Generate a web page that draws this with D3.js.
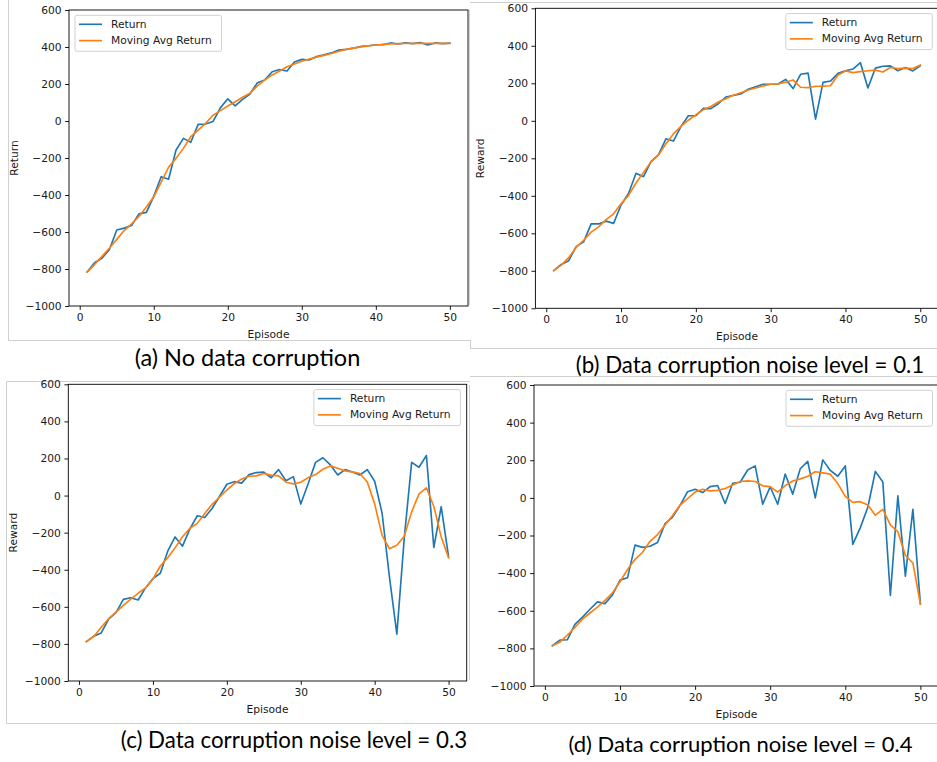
<!DOCTYPE html>
<html>
<head>
<meta charset="utf-8">
<script src="https://cdn.jsdelivr.net/npm/d3@7/dist/d3.min.js"></script>
<style>
  html, body { margin: 0; padding: 0; background: #ffffff; }
  svg { display: block; }
</style>
</head>
<body>
<svg id="fig" width="937" height="762"></svg>
<script>
// Episode index shared by all four training runs
const episodes = [1,2,3,4,5,6,7,8,9,10,11,12,13,14,15,16,17,18,19,20,
  21,22,23,24,25,26,27,28,29,30,31,32,33,34,35,36,37,38,39,40,
  41,42,43,44,45,46,47,48,49,50];

const xTickValues = [0, 10, 20, 30, 40, 50];
const yTickValues = [-1000, -800, -600, -400, -200, 0, 200, 400, 600];
const seriesNames = ["Return", "Moving Avg Return"];

// (a) no data corruption
const returnA = [-816,-766,-742,-696,-589,-579,-565,-502,-494,-407,-301,-315,-158,-94,-115,-18,-16,-3,71,120,
  82,117,146,207,222,266,278,270,319,333,330,348,358,368,383,387,394,403,407,412,
  413,422,416,422,418,424,411,422,418,421];
const avgA = [-816,-776,-732,-688,-640,-592,-556,-516,-465,-410,-330,-250,-202,-148,-85,-49,-13,31,56,81,
  104,128,150,190,222,249,270,293,308,323,335,345,355,365,377,387,394,401,406,411,
  414,417,418,419,420,420,420,420,420,420];

// (b) noise level 0.1
const returnB = [-799,-766,-746,-671,-646,-550,-550,-535,-547,-449,-388,-280,-298,-218,-182,-96,-108,-31,27,27,
  66,65,91,127,135,143,168,182,195,195,196,221,172,248,254,9,205,212,253,267,
  276,310,175,281,291,293,267,284,266,294];
const avgB = [-799,-770,-730,-675,-637,-594,-566,-527,-496,-443,-398,-332,-275,-219,-183,-122,-70,-30,3,32,
  59,76,100,118,136,150,164,175,186,195,196,206,218,179,177,184,185,187,244,266,
  257,262,267,270,260,284,279,281,279,297];

// (c) noise level 0.3
const returnC = [-788,-758,-741,-667,-631,-560,-551,-563,-498,-448,-419,-300,-223,-273,-180,-109,-118,-70,-5,61,
  75,67,113,124,126,96,140,80,102,-46,64,179,204,166,111,140,127,111,140,77,
  -94,-440,-747,-230,179,153,216,-280,-60,-330];
const avgC = [-788,-760,-710,-664,-628,-592,-558,-527,-498,-450,-380,-335,-282,-222,-176,-150,-97,-48,-9,30,
  64,89,104,106,119,110,106,72,63,72,97,113,142,160,147,133,128,119,73,-45,
  -215,-287,-268,-219,-88,9,42,-58,-223,-335];

// (d) noise level 0.4
const returnD = [-786,-756,-754,-672,-634,-592,-553,-562,-516,-437,-425,-251,-263,-257,-237,-137,-102,-40,33,46,
  28,60,66,-30,78,83,148,170,-33,59,-34,127,20,155,194,0,202,146,115,170,
  -247,-158,-50,141,84,-519,11,-416,-61,-564];
const avgD = [-786,-767,-729,-689,-645,-612,-581,-545,-505,-446,-381,-328,-289,-231,-195,-144,-94,-38,-4,31,
  46,37,40,50,68,87,90,87,64,60,31,65,90,101,115,139,133,126,76,8,
  -24,-20,-38,-92,-61,-143,-180,-305,-346,-564];

const colors = ["#1f77b4", "#ff7f0e"];

const panels = [
  { ret: returnA, avg: avgA, box: [69, 10, 468, 306], ylabel: "Return", legend: "left",
    caption: "(a) No data corruption", cap: [247.5, 366], capSize: 23.5 },
  { ret: returnB, avg: avgB, box: [535.4, 8.3, 938.6, 308.3], ylabel: "Reward", legend: "right",
    caption: "(b) Data corruption noise level = 0.1", cap: [750, 373], capSize: 22.3 },
  { ret: returnC, avg: avgC, box: [68.3, 384.3, 466.7, 681], ylabel: "Reward", legend: "right",
    caption: "(c) Data corruption noise level = 0.3", cap: [294, 748], capSize: 22.3 },
  { ret: returnD, avg: avgD, box: [534, 385, 938.8, 686], ylabel: null, legend: "right",
    caption: "(d) Data corruption noise level = 0.4", cap: [740.5, 752], capSize: 22 }
];

const svg = d3.select("#fig");
const tickFont = "DejaVu Sans, sans-serif";
const tickSize = 10.7;

// light frames around each sub-figure
const frameLines = [
  [8.5, 0, 8.5, 340.5], [8.5, 340.5, 470, 340.5],
  [469.5, 10, 469.5, 305], [470, 2.5, 937, 2.5], [470.5, 340, 470.5, 348.5], [470, 348.5, 937, 348.5],
  [6.5, 381.5, 470, 381.5], [6.5, 381.5, 6.5, 723.5], [6.5, 723.5, 470, 723.5],
  [469.5, 385, 469.5, 680], [469, 723.5, 937, 723.5], [470, 376.5, 937, 376.5]
];
svg.append("g").selectAll("line").data(frameLines).join("line")
  .attr("x1", d => d[0]).attr("y1", d => d[1]).attr("x2", d => d[2]).attr("y2", d => d[3])
  .attr("stroke", "#d0d0d0").attr("stroke-width", 1);

const fmt = d => (d < 0 ? "\u2212" + Math.abs(d) : String(d));

panels.forEach(p => {
  const [l, t, r, b] = p.box;
  const g = svg.append("g");
  const x = d3.scaleLinear().domain([-1.45, 52.45]).range([l, r]);
  const y = d3.scaleLinear().domain([-1000, 600]).range([b, t]);

  const clipId = "clip" + Math.round(l) + "_" + Math.round(t);
  svg.append("clipPath").attr("id", clipId)
    .append("rect").attr("x", l).attr("y", t).attr("width", r - l).attr("height", b - t);

  // axes
  const xAxis = g.append("g").attr("transform", `translate(0,${b})`)
    .call(d3.axisBottom(x).tickValues(xTickValues).tickSize(3.9).tickPadding(3.5).tickFormat(fmt));
  const yAxis = g.append("g").attr("transform", `translate(${l},0)`)
    .call(d3.axisLeft(y).tickValues(yTickValues).tickSize(3.9).tickPadding(3.5).tickFormat(fmt));
  [xAxis, yAxis].forEach(a => {
    a.select(".domain").remove();
    a.selectAll("line").attr("stroke", "#000").attr("stroke-width", 0.9);
    a.selectAll("text").attr("font-family", tickFont).attr("font-size", tickSize).attr("fill", "#1a1a1a");
  });

  // lines
  const lineGen = vals => d3.line().x((d, i) => x(episodes[i])).y(d => y(d))(vals);
  const lg = g.append("g").attr("clip-path", `url(#${clipId})`);
  [p.ret, p.avg].forEach((vals, k) => {
    lg.append("path").attr("d", lineGen(vals))
      .attr("fill", "none").attr("stroke", colors[k]).attr("stroke-width", 1.65)
      .attr("stroke-linejoin", "round").attr("stroke-linecap", "square");
  });

  // plot frame
  g.append("rect").attr("x", l).attr("y", t).attr("width", r - l).attr("height", b - t)
    .attr("fill", "none").attr("stroke", "#000").attr("stroke-width", 0.9);

  // axis titles
  g.append("text").attr("x", (l + r) / 2).attr("y", b + 28).attr("text-anchor", "middle")
    .attr("dominant-baseline", "central").attr("font-family", tickFont).attr("font-size", tickSize)
    .attr("fill", "#1a1a1a").text("Episode");
  if (p.ylabel) {
    g.append("text").attr("transform", `translate(${l - 55},${(t + b) / 2}) rotate(-90)`)
      .attr("text-anchor", "middle").attr("dominant-baseline", "central")
      .attr("font-family", tickFont).attr("font-size", tickSize).attr("fill", "#1a1a1a").text(p.ylabel);
  }

  // legend
  const lw = 146.5, lh = 36;
  const lx = p.legend === "left" ? l + 6 : r - 6.3 - lw;
  const ly = t + 5.3;
  const leg = g.append("g");
  leg.append("rect").attr("x", lx).attr("y", ly).attr("width", lw).attr("height", lh)
    .attr("rx", 2).attr("fill", "#fff").attr("fill-opacity", 0.8)
    .attr("stroke", "#cccccc").attr("stroke-width", 0.9);
  seriesNames.forEach((name, k) => {
    const yy = ly + 9 + k * 16.3;
    leg.append("line").attr("x1", lx + 4).attr("x2", lx + 27).attr("y1", yy).attr("y2", yy)
      .attr("stroke", colors[k]).attr("stroke-width", 1.65);
    leg.append("text").attr("x", lx + 36).attr("y", yy).attr("dominant-baseline", "central")
      .attr("font-family", tickFont).attr("font-size", tickSize).attr("fill", "#1a1a1a").text(name);
  });

  // caption
  svg.append("text").attr("x", p.cap[0]).attr("y", p.cap[1]).attr("text-anchor", "middle")
    .attr("font-family", "Lato, 'Open Sans', sans-serif").attr("font-size", p.capSize)
    .attr("fill", "#000").text(p.caption);
});
</script>
</body>
</html>
